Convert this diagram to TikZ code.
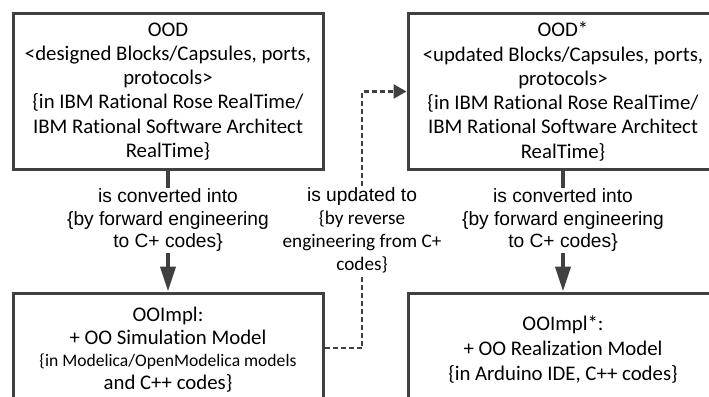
\documentclass[tikz,border=0pt]{standalone}
\usepackage{fontspec}
\setmainfont[Ligatures={NoCommon}]{Carlito}
\newfontfamily\arialf{Liberation Sans}
\usetikzlibrary{arrows.meta}
\definecolor{edge}{HTML}{404040}
\begin{document}
\begin{tikzpicture}[x=1pt,y=-1pt,
  box/.style={draw=edge, line width=3pt, minimum width=310pt, inner sep=0pt},
  boxtext/.style={align=center, inner sep=0pt},
  lbl/.style={align=center, fill=white, inner sep=1.5pt},
  conv/.style={draw=edge, line width=4pt, -{Triangle[length=25pt,width=15pt]}},
  upd/.style={draw=edge, line width=2.5pt, dash pattern=on 5pt off 3pt, -{Triangle[length=13pt,width=14pt]}}]
\useasboundingbox (0,0) rectangle (709,396);
\node[box, minimum height=155pt] (b1) at (168,91.5) {};
\node[box, minimum height=155pt] (b2) at (563,91.5) {};
\node[box, minimum height=110pt] (b3) at (168,348) {};
\node[box, minimum height=110pt] (b4) at (563,348) {};
\node[boxtext, font=\fontsize{20.8}{24.3}\selectfont] (t1) at (168,91.5)
  {OOD\\<designed Blocks/Capsules, ports,\\protocols>\\\{in IBM Rational Rose RealTime/\\IBM Rational Software Architect\\RealTime\}};
\node[boxtext, font=\fontsize{20.8}{24.3}\selectfont] (t2) at (563,91.5)
  {OOD*\\<updated Blocks/Capsules, ports,\\protocols>\\\{in IBM Rational Rose RealTime/\\IBM Rational Software Architect\\RealTime\}};
\node[boxtext, font=\fontsize{20.8}{22.5}\selectfont] (t3) at (168,349.5)
  {OOImpl:\\+ OO Simulation Model\\{\fontsize{17.6}{22.5}\selectfont\{in Modelica/OpenModelica models}\\and C++ codes\}};
\node[boxtext, font=\fontsize{20.8}{25}\selectfont] (t4) at (563,349.5)
  {OOImpl*:\\+ OO Realization Model\\\{in Arduino IDE, C++ codes\}};
\draw[conv] (b1) -- node[lbl, pos=0.413, font=\arialf\fontsize{19.2}{22.5}\selectfont] (l1)
  {is converted into\\\{by forward engineering\\to C+ codes\}} (b3);
\draw[conv] (b2) -- node[lbl, pos=0.413, font=\arialf\fontsize{19.2}{22.5}\selectfont] (l2)
  {is converted into\\\{by forward engineering\\to C+ codes\}} (b4);
\coordinate (c1) at (362,348);
\coordinate (c2) at (362,91.5);
\draw[upd] (b3.east) -- (c1) -- node[lbl, pos=0.46, font=\fontsize{19.2}{23}\selectfont] (l3)
  {{\arialf is updated to}\\\{by reverse\\engineering from C+\\codes\}} (c2) -- (b2.west);
\end{tikzpicture}
\end{document}
